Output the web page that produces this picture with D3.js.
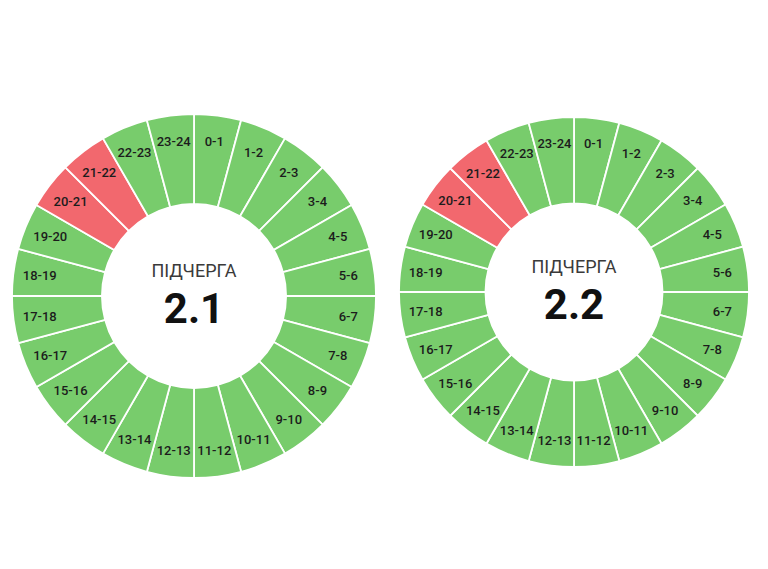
<!DOCTYPE html>
<html>
<head>
<meta charset="utf-8">
<script src="https://cdn.jsdelivr.net/npm/d3@7"></script>
<style>
  body { margin: 0; background: #fff; }
  text { font-family: Roboto, "Noto Sans", sans-serif; }
</style>
</head>
<body>
<svg id="svg1" width="768" height="569"></svg>
<script>
const svg1 = d3.select('#svg1');

// hour slots, 0-1 ... 23-24
const hours = d3.range(24).map(h => `${h}-${h + 1}`);

// queue labels
const queues = ['2.1', '2.2'];
const title = 'ПІДЧЕРГА';

// 1 = power off in that hour, 0 = power on
const status21 = [0,0,0,0,0,0,0,0,0,0,0,0,0,0,0,0,0,0,0,0,1,1,0,0];
const status22 = [0,0,0,0,0,0,0,0,0,0,0,0,0,0,0,0,0,0,0,0,1,1,0,0];

const charts = [
  { name: queues[0], status: status21, cx: 194, cy: 296, r: 182 },
  { name: queues[1], status: status22, cx: 574, cy: 292, r: 175 }
];

const colour = d3.scaleOrdinal().domain([0, 1]).range(['#78cc6c', '#f2686e']);

const render = c => {
  const data = hours.map((h, i) => ({ label: h, off: c.status[i] }));

  const pie = d3.pie().value(1).sort(null);
  const arc = d3.arc().innerRadius(c.r * 0.506).outerRadius(c.r);
  const labelArc = d3.arc().innerRadius(c.r * 0.855).outerRadius(c.r * 0.855);

  const g = svg1.append('g')
    .attr('transform', `translate(${c.cx},${c.cy})`);

  const arcs = pie(data);

  g.selectAll('.slice').data(arcs)
    .enter().append('path')
      .attr('class', 'slice')
      .attr('d', arc)
      .attr('fill', d => colour(d.data.off))
      .attr('stroke', '#fff')
      .attr('stroke-width', 1.8);

  g.selectAll('.hour').data(arcs)
    .enter().append('text')
      .attr('class', 'hour')
      .attr('transform', d => `translate(${labelArc.centroid(d)})`)
      .attr('text-anchor', 'middle')
      .attr('dy', '0.35em')
      .attr('font-size', 13)
      .attr('font-weight', 500)
      .attr('fill', '#1c1c1c')
      .text(d => d.data.label);

  g.append('text')
    .attr('y', -19)
    .attr('text-anchor', 'middle')
    .attr('font-size', 18)
    .attr('fill', '#3a3a3a')
    .text(title);

  g.append('text')
    .attr('y', 27)
    .attr('text-anchor', 'middle')
    .attr('font-size', 42)
    .attr('font-weight', 700)
    .attr('fill', '#111')
    .text(c.name);
};

charts.forEach(render);
</script>
</body>
</html>
